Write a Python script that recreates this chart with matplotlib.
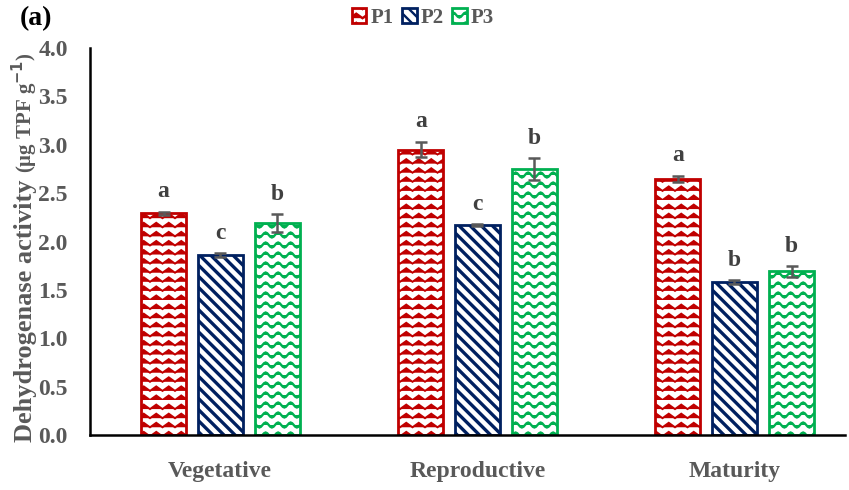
import matplotlib.pyplot as plt
import matplotlib.hatch as mhatch
from matplotlib.path import Path
import numpy as np
import warnings

warnings.filterwarnings('ignore')
plt.rcParams['font.family'] = ['Liberation Serif', 'DejaVu Serif']

stages = ['Vegetative', 'Reproductive', 'Maturity']
series = ['P1', 'P2', 'P3']
values = {
    'P1': [2.29, 2.95, 2.65],
    'P2': [1.86, 2.17, 1.58],
    'P3': [2.19, 2.75, 1.69],
}
errors = {
    'P1': [0.02, 0.08, 0.03],
    'P2': [0.02, 0.01, 0.02],
    'P3': [0.09, 0.11, 0.055],
}
letters = {
    'P1': ['a', 'a', 'a'],
    'P2': ['c', 'c', 'b'],
    'P3': ['b', 'b', 'b'],
}


# custom hatches: 'z' = zigzag chevrons, '~' = waves
class ZigHatch(mhatch.HatchPatternBase):
    def __init__(self, hatch, density):
        self.rows = 11 if 'z' in hatch else 0
        self.per = 8
        self.npts = 2 * self.per + 1
        self.num_vertices = self.rows * self.npts

    def set_vertices_and_codes(self, vertices, codes):
        xs = np.linspace(0, 1, self.npts)
        off = np.where(np.arange(self.npts) % 2 == 0, 0.0, 0.045)
        for r in range(self.rows):
            y0 = r / self.rows
            sl = slice(r * self.npts, (r + 1) * self.npts)
            vertices[sl, 0] = xs
            vertices[sl, 1] = y0 + off
            codes[sl] = Path.LINETO
            codes[r * self.npts] = Path.MOVETO


class WaveHatch(mhatch.HatchPatternBase):
    def __init__(self, hatch, density):
        self.rows = 10 if '~' in hatch else 0
        self.per = 8
        self.npts = self.per * 8 + 1
        self.num_vertices = self.rows * self.npts

    def set_vertices_and_codes(self, vertices, codes):
        xs = np.linspace(0, 1, self.npts)
        for r in range(self.rows):
            y0 = (r + 0.5) / self.rows
            sl = slice(r * self.npts, (r + 1) * self.npts)
            vertices[sl, 0] = xs
            vertices[sl, 1] = y0 + 0.025 * np.sin(2 * np.pi * self.per * xs)
            codes[sl] = Path.LINETO
            codes[r * self.npts] = Path.MOVETO


mhatch._hatch_types.extend([ZigHatch, WaveHatch])

colors = {'P1': '#C00000', 'P2': '#002060', 'P3': '#00B050'}
hatches = {'P1': 'z', 'P2': '\\\\\\', 'P3': '~'}
hatch_lw = {'P1': 1.4, 'P2': 2.4, 'P3': 1.7}
offsets = {'P1': -0.22, 'P2': 0.0, 'P3': 0.222}
gray = '#595959'

fig = plt.figure(figsize=(8.49, 4.90), dpi=100)
ax = fig.add_axes([90 / 849, 55 / 490, 755 / 849, 387 / 490])

x = np.arange(len(stages))
handles = []
for s in series:
    plt.rcParams['hatch.linewidth'] = hatch_lw[s]
    b = ax.bar(x + offsets[s], values[s], width=0.175, color='white',
               edgecolor=colors[s], linewidth=2, hatch=hatches[s], zorder=2)
    for p in b.patches:
        if hasattr(p, 'set_hatch_linewidth'):
            p.set_hatch_linewidth(hatch_lw[s])
    handles.append(b)
    ax.errorbar(x + offsets[s], values[s], yerr=errors[s], fmt='none',
                ecolor=gray, elinewidth=1.8, capsize=4, capthick=1.8, zorder=3)
    for xi, v, e, t in zip(x + offsets[s], values[s], errors[s], letters[s]):
        ax.text(xi, v + e + 0.15, t, ha='center', va='baseline', fontsize=17,
                fontweight='bold', color='#404040')

ax.set_xlim(-0.506, 2.43)
ax.set_ylim(0, 4.0)
ax.set_yticks(np.arange(0, 4.01, 0.5))
ax.set_yticklabels([f'{v:.1f}' for v in np.arange(0, 4.01, 0.5)],
                   fontsize=17, fontweight='bold', color=gray)
ax.set_xticks(x)
ax.set_xticklabels(stages, fontsize=17, fontweight='bold', color=gray)
ax.tick_params(axis='both', length=0)
ax.tick_params(axis='x', pad=19)
ax.tick_params(axis='y', pad=16)
for sp in ['top', 'right']:
    ax.spines[sp].set_visible(False)
for sp in ['left', 'bottom']:
    ax.spines[sp].set_color('black')
    ax.spines[sp].set_linewidth(1.8)

t1 = fig.text(32 / 849, 48 / 490, 'Dehydrogenase activity ', rotation=90,
              rotation_mode='anchor', ha='left', va='baseline',
              fontsize=19, fontweight='bold', color=gray)
fig.canvas.draw()
bb = t1.get_window_extent()
fig.text(32 / 849, bb.y1 / 490, r'(μg TPF g$^{\mathbf{-1}}$)', rotation=90,
         rotation_mode='anchor', ha='left', va='baseline',
         fontsize=15, fontweight='bold', color=gray)

fig.text(20 / 849, 471 / 490, '(a)', fontsize=20, fontweight='bold',
         color='black', va='center')

leg = fig.legend(handles, series, loc='center', bbox_to_anchor=(423 / 849, 472 / 490),
                 ncol=3, frameon=False, handlelength=0.7, handleheight=0.7,
                 handletextpad=0.2, columnspacing=0.4,
                 prop={'size': 15, 'weight': 'bold'})
for t in leg.get_texts():
    t.set_color(gray)

fig.savefig('out.png', dpi=100)
